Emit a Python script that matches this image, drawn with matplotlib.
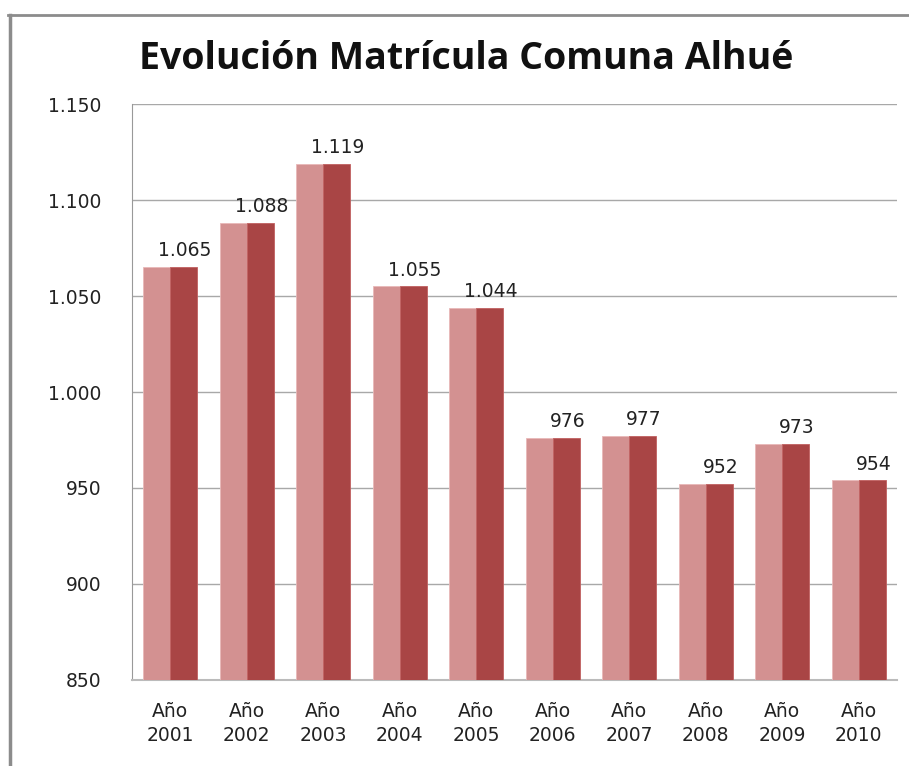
import matplotlib
matplotlib.use('Agg')
import matplotlib.pyplot as plt
from matplotlib.lines import Line2D

# Data
years = ['2001', '2002', '2003', '2004', '2005',
         '2006', '2007', '2008', '2009', '2010']
matricula = [1065, 1088, 1119, 1055, 1044, 976, 977, 952, 973, 954]
y_ticks = [850, 900, 950, 1000, 1050, 1100, 1150]


def fmt(v):
    # Spanish thousands separator
    return '{:,}'.format(v).replace(',', '.')


def main():
    fig = plt.figure(figsize=(9.09, 7.66), dpi=100)
    ax = fig.add_axes([0.1452, 0.1123, 0.8416, 0.7519])

    x = list(range(len(years)))
    w = 0.35
    light = '#D39191'
    dark = '#A94545'
    ax.bar([i - w / 2 for i in x], matricula, width=w, color=light,
           edgecolor='#E8B8B8', linewidth=0.6, zorder=3)
    ax.bar([i + w / 2 for i in x], matricula, width=w, color=dark,
           edgecolor='#C06060', linewidth=0.6, zorder=3)

    for i, v in zip(x, matricula):
        ax.text(i + 0.19, v + 3.5, fmt(v), ha='center', va='bottom',
                fontsize=13.5, color='#222222', family='DejaVu Sans')

    ax.set_xlim(-0.5, len(years) - 0.5)
    ax.set_ylim(850, 1150)
    ax.set_yticks(y_ticks)
    ax.set_yticklabels([fmt(t) for t in y_ticks], fontsize=13.5,
                       color='#222222')
    ax.set_xticks(x)
    ax.set_xticklabels(['Año\n' + y for y in years], fontsize=13.5,
                       color='#222222', linespacing=1.35)
    ax.tick_params(axis='y', length=0, pad=22)
    ax.tick_params(axis='x', length=0, pad=16)

    ax.grid(axis='y', color='#A8A8A8', linewidth=1.0, zorder=0)
    ax.set_axisbelow(True)
    for s in ['top', 'right']:
        ax.spines[s].set_visible(False)
    ax.spines['left'].set_color('#999999')
    ax.spines['bottom'].set_color('#BBBBBB')
    ax.spines['bottom'].set_linewidth(1.5)

    fig.text(0.513, 0.923, 'Evolución Matrícula Comuna Alhué',
             ha='center', va='center', fontsize=27, fontweight='bold',
             family=['Open Sans', 'DejaVu Sans'], color='#111111')

    # outer frame of the chart
    fig.add_artist(Line2D([0.009, 1.0], [0.980, 0.980], color='#8C8C8C',
                          linewidth=2, transform=fig.transFigure))
    fig.add_artist(Line2D([0.011, 0.011], [0.0, 0.981], color='#8C8C8C',
                          linewidth=2.5, transform=fig.transFigure))

    fig.savefig('out.png', dpi=100)


if __name__ == '__main__':
    main()
